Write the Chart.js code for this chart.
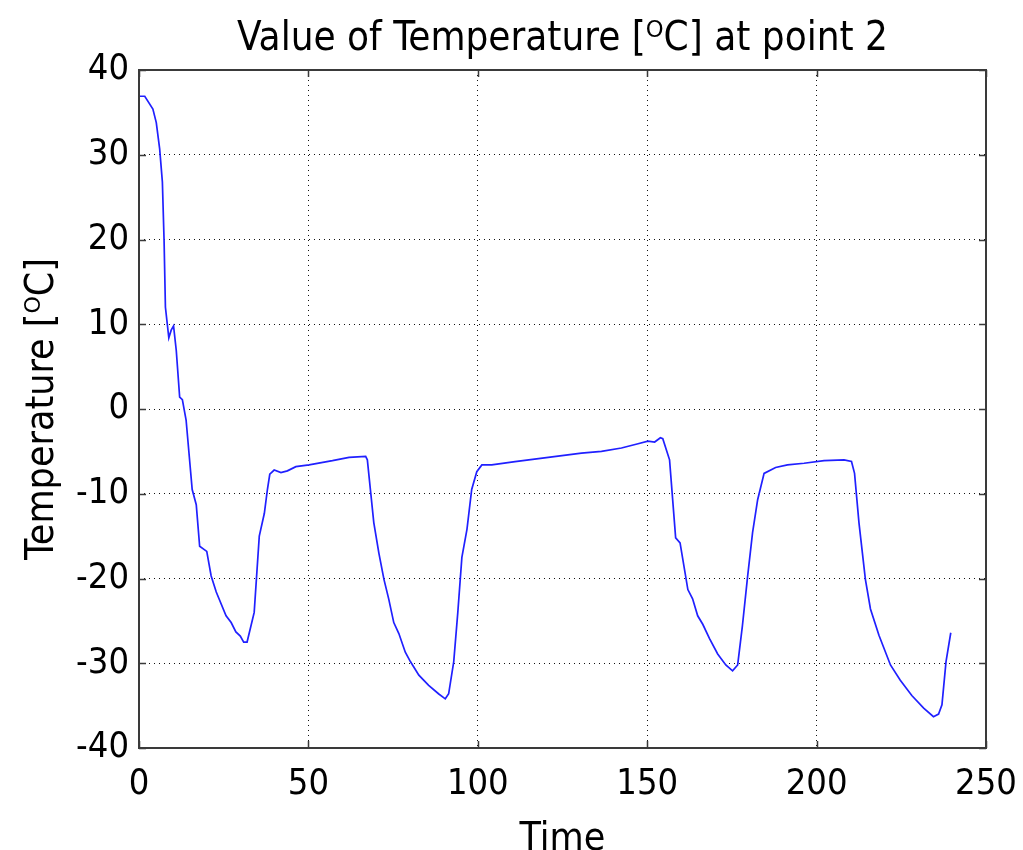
<!DOCTYPE html>
<html>
<head>
<meta charset="utf-8">
<title>Value of Temperature at point 2</title>
<script src="https://cdn.jsdelivr.net/npm/chart.js@4.4.1/dist/chart.umd.min.js"></script>
<style>
    html, body { margin: 0; padding: 0; background: #fff; }
    canvas { display: block; }
</style>
</head>
<body>
<canvas id="chartContainer" width="1023" height="850"></canvas>
<script>
// time samples and temperature
const times = [0, 1.7, 4.1, 5.1, 6.1, 6.9, 7.4, 7.8, 8.8, 9.5, 10.2, 11.0, 12.0, 12.8, 13.9, 15.7, 16.9, 17.9, 20.0, 21.3,
    22.8, 25.7, 27.2, 28.6, 29.9, 30.9, 31.9, 34.0, 35.5, 37.0, 37.9, 38.6, 39.9, 41.9, 43.8, 46.3, 50.2, 57.1, 62.0, 66.9,
    67.4, 68.4, 69.3, 70.8, 72.3, 73.7, 75.2, 76.7, 78.6, 80.1, 82.6, 85.5, 88.4, 90.4, 91.4, 92.9, 94.1, 95.3, 96.8, 98.2,
    99.7, 101.2, 104.1, 111.0, 120.8, 130.6, 136.5, 142.4, 147.3, 150.2, 152.2, 153.9, 154.6, 156.6, 158.4, 159.7, 162.0, 163.4, 164.9, 166.4,
    168.4, 170.8, 173.2, 175.2, 176.7, 178.1, 179.6, 181.1, 182.6, 184.5, 187.9, 191.4, 196.3, 202.2, 208.1, 210.3, 211.2, 212.5, 214.4, 215.9,
    218.4, 221.8, 224.7, 228.1, 231.6, 234.5, 236.0, 237.0, 238.2, 239.6];
const temps = [36.9, 36.9, 35.4, 33.8, 30.7, 26.8, 19.9, 12.0, 8.4, 9.3, 9.8, 6.9, 1.4, 1.1, -1.3, -9.5, -11.3, -16.2, -16.8, -19.7,
    -21.6, -24.4, -25.2, -26.3, -26.8, -27.5, -27.5, -24.0, -15.0, -12.3, -9.5, -7.7, -7.2, -7.5, -7.3, -6.8, -6.6, -6.1, -5.7, -5.6,
    -6.0, -9.9, -13.4, -17.0, -20.1, -22.4, -25.2, -26.5, -28.7, -29.8, -31.4, -32.6, -33.6, -34.2, -33.6, -29.8, -24.0, -17.5, -14.2, -9.5,
    -7.4, -6.6, -6.6, -6.2, -5.7, -5.2, -5.0, -4.6, -4.1, -3.8, -3.9, -3.4, -3.5, -6.0, -15.2, -15.8, -21.3, -22.4, -24.4, -25.4,
    -27.1, -28.9, -30.2, -30.9, -30.2, -25.6, -19.9, -14.6, -10.7, -7.6, -6.9, -6.6, -6.4, -6.1, -6.0, -6.2, -7.6, -13.4, -20.1, -23.6,
    -26.7, -30.2, -32.0, -33.8, -35.3, -36.3, -36.0, -34.9, -29.8, -26.4];

const xTicks = [0, 50, 100, 150, 200, 250];
const yTicks = [-40, -30, -20, -10, 0, 10, 20, 30, 40];

const chartTitle = 'Value of Temperature [\u1D3CC] at point 2';
const xTitle = 'Time';
const yTitle = 'Temperature [\u1D3CC]';

const fontName = '"DejaVu Sans Condensed", "DejaVu Sans", sans-serif';

// box around the plot, small inward tick marks and a title centred over the plot area
const boxPlugin = {
    id: 'box',
    afterDatasetsDraw(chart) {
        const ctx = chart.ctx;
        const a = chart.chartArea;
        const xs = chart.scales.x;
        const ys = chart.scales.y;
        const len = 7;
        ctx.save();
        ctx.strokeStyle = '#3a3a3a';
        ctx.lineWidth = 1.5;
        xs.ticks.forEach(t => {
            const px = Math.round(xs.getPixelForValue(t.value)) + 0.5;
            ctx.beginPath();
            ctx.moveTo(px, a.bottom);
            ctx.lineTo(px, a.bottom - len);
            ctx.moveTo(px, a.top);
            ctx.lineTo(px, a.top + len);
            ctx.stroke();
        });
        ys.ticks.forEach(t => {
            const py = Math.round(ys.getPixelForValue(t.value)) + 0.5;
            ctx.beginPath();
            ctx.moveTo(a.left, py);
            ctx.lineTo(a.left + len, py);
            ctx.moveTo(a.right, py);
            ctx.lineTo(a.right - len, py);
            ctx.stroke();
        });
        ctx.lineWidth = 2;
        ctx.strokeRect(a.left, a.top, a.right - a.left, a.bottom - a.top);

        ctx.fillStyle = '#000';
        ctx.font = '40px ' + fontName;
        ctx.textAlign = 'center';
        ctx.textBaseline = 'middle';
        ctx.fillText(chartTitle, (a.left + a.right) / 2, 40);
        ctx.restore();
    }
};

const ctx = document.getElementById('chartContainer').getContext('2d');

new Chart(ctx, {
    type: 'line',
    data: {
        datasets: [{
            label: 'Temperature',
            data: times.map((t, i) => ({ x: t, y: temps[i] })),
            borderColor: '#2020ff',
            borderWidth: 1.7,
            pointRadius: 0,
            tension: 0,
            fill: false
        }]
    },
    options: {
        responsive: false,
        animation: false,
        devicePixelRatio: 1,
        layout: { padding: { left: 0, right: 37, top: 70, bottom: 0 } },
        plugins: {
            legend: { display: false },
            tooltip: { enabled: false },
            title: { display: false }
        },
        scales: {
            x: {
                type: 'linear',
                min: 0,
                max: 250,
                afterBuildTicks: s => { s.ticks = xTicks.map(v => ({ value: v })); },
                afterFit: s => { s.height = 102; s.paddingLeft = 0; s.paddingRight = 0; },
                border: { display: false, dash: [1, 4] },
                grid: { color: '#111', lineWidth: 1, drawTicks: false },
                ticks: {
                    color: '#000',
                    padding: 15,
                    maxRotation: 0,
                    font: { family: fontName, size: 36 }
                },
                title: {
                    display: true,
                    text: xTitle,
                    color: '#000',
                    font: { family: fontName, size: 39, lineHeight: 1 },
                    padding: { top: 0, bottom: -9 }
                }
            },
            y: {
                type: 'linear',
                min: -40,
                max: 40,
                afterBuildTicks: s => { s.ticks = yTicks.map(v => ({ value: v })); },
                afterFit: s => { s.width = 139; s.paddingTop = 0; s.paddingBottom = 0; },
                border: { display: false, dash: [1, 4] },
                grid: { color: '#111', lineWidth: 1, drawTicks: false },
                ticks: {
                    color: '#000',
                    padding: 10,
                    font: { family: fontName, size: 36 }
                },
                title: {
                    display: true,
                    text: yTitle,
                    color: '#000',
                    font: { family: fontName, size: 39, lineHeight: 1 },
                    padding: { top: 23, bottom: 0 }
                }
            }
        }
    },
    plugins: [boxPlugin]
});
</script>
</body>
</html>
